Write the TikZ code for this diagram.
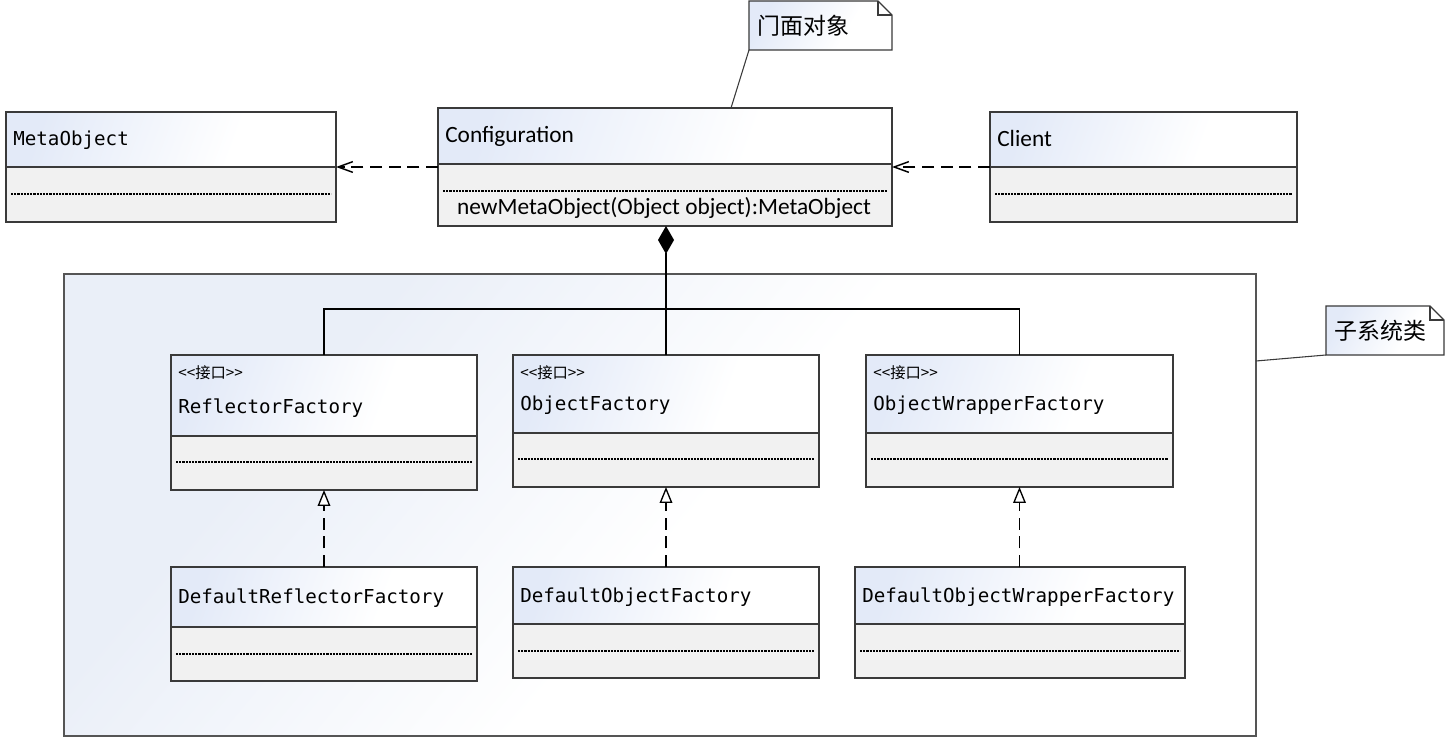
\documentclass[tikz,border=0pt]{standalone}
\usepackage{fontspec}
\usetikzlibrary{arrows.meta,calc}
\newfontfamily\monofont{DejaVu Sans Mono}
\newfontfamily\uifont{Carlito}
\newfontfamily\cjkfont{Noto Sans CJK SC}

\definecolor{boxline}{HTML}{3A3A3A}
\definecolor{pkgline}{HTML}{555555}
\definecolor{hdrblue}{HTML}{E3EAF8}
\definecolor{cmpgray}{HTML}{F1F1F1}
\definecolor{pkgblue}{HTML}{EAEFF8}

% pale blue corner fading to white
\pgfdeclarehorizontalshading{hdrfade}{100bp}{color(0bp)=(hdrblue); color(25bp)=(hdrblue); color(62bp)=(white); color(100bp)=(white)}
\pgfdeclarehorizontalshading{pkgfade}{100bp}{color(0bp)=(pkgblue); color(30bp)=(pkgblue); color(52bp)=(white); color(100bp)=(white)}

\tikzset{
  x=0.75pt, y=-0.75pt,
  clsbox/.style={draw=boxline, line width=1pt, rectangle, inner sep=0pt, outer sep=0pt},
  hdrshade/.style={shading=hdrfade, shading angle=-20},
  cmpfill/.style={fill=cmpgray},
  clsline/.style={draw=boxline, line width=1pt},
  dotline/.style={draw=black, line width=0.8pt, dash pattern=on 1.6pt off 0.8pt},
  clsname/.style={font=\monofont\fontsize{14.4pt}{16pt}\selectfont, inner sep=0pt, anchor=base west},
  uiname/.style={font=\uifont\fontsize{17.5pt}{20pt}\selectfont, inner sep=0pt},
  stereo/.style={font=\cjkfont\fontsize{11.5pt}{13pt}\selectfont, inner sep=0pt, anchor=base west},
  notebox/.style={rectangle, draw=none, inner sep=0pt, outer sep=0pt},
  noteshade/.style={shading=hdrfade, shading angle=-30},
  noteline/.style={draw=boxline, line width=1pt, line join=miter},
  notetext/.style={font=\cjkfont\fontsize{17.2pt}{20pt}\selectfont, inner sep=0pt},
  pkgbox/.style={rectangle, draw=pkgline, line width=1pt, inner sep=0pt, outer sep=0pt},
  pkgshade/.style={shading=pkgfade, shading angle=-40},
  link/.style={draw=black, line width=1.1pt},
  dep/.style={link, dash pattern=on 9pt off 5pt, -{Straight Barb[length=11pt,width=8pt,line width=1.1pt]}},
  real/.style={link, dash pattern=on 9pt off 5pt, -{Triangle[open,length=12pt,width=9.5pt,line width=1pt,fill=white]}},
  comp/.style={link, {Diamond[length=21pt,width=12pt]}-},
  anchorline/.style={draw=boxline, line width=0.8pt},
}

% class box: name, x, y, width, height, header height, dotted-line offset
\newcommand{\umlclass}[7]{%
  \fill[cmpfill] (#2,#3+#6) rectangle (#2+#4,#3+#5);
  \shade[hdrshade] (#2,#3) rectangle (#2+#4,#3+#6);
  \draw[dotline] (#2+5,#3+#6+#7) -- (#2+#4-5,#3+#6+#7);
  \draw[clsline] (#2,#3+#6) -- (#2+#4,#3+#6);
  \node[clsbox, minimum width=#4*0.75pt, minimum height=#5*0.75pt, anchor=north west] (#1) at (#2,#3) {};
}

% note with folded corner: name, x, y, width, height, text
\newcommand{\umlnote}[6]{%
  \node[notebox, minimum width=#4*0.75pt, minimum height=#5*0.75pt, anchor=north west] (#1) at (#2,#3) {};
  \shade[noteshade] (#2,#3) -- (#2+#4-14,#3) -- (#2+#4,#3+14) -- (#2+#4,#3+#5) -- (#2,#3+#5) -- cycle;
  \draw[noteline] (#2,#3) -- (#2+#4-14,#3) -- (#2+#4,#3+14) -- (#2+#4,#3+#5) -- (#2,#3+#5) -- cycle;
  \draw[noteline] (#2+#4-14,#3) -- (#2+#4-14,#3+14) -- (#2+#4,#3+14);
  \node[notetext, anchor=west] (#1T) at (#2+8,#3+#5/2) {#6};
}

\begin{document}
\begin{tikzpicture}
\useasboundingbox (0,0) rectangle (1446,737);
\fill[white] (0,0) rectangle (1446,737);

% subsystem package
\shade[pkgshade] (64,274) rectangle (1256,736);
\node[pkgbox, minimum width=1192*0.75pt, minimum height=462*0.75pt, anchor=north west] (pkg) at (64,274) {};

% facade and client side
\umlclass{meta}{6}{112}{330}{110}{55}{27}
\node[clsname] (metaT) at (13,146) {MetaObject};

\umlclass{conf}{438}{108}{454}{118}{56}{27}
\node[uiname, anchor=base west] (confT) at (445,143) {Configuration};
\node[uiname, anchor=base] (confM) at (664,215) {newMetaObject(Object object):MetaObject};

\umlclass{client}{990}{112}{307}{110}{55}{27}
\node[uiname, anchor=base west] (clientT) at (997,147) {Client};

% interfaces
\umlclass{rf}{171}{355}{306}{135}{81}{26}
\node[stereo] (rfS) at (178,379) {<<接口>>};
\node[clsname] (rfT) at (178,414) {ReflectorFactory};

\umlclass{of}{513}{355}{306}{132}{78}{26}
\node[stereo] (ofS) at (520,379) {<<接口>>};
\node[clsname] (ofT) at (520,411) {ObjectFactory};

\umlclass{owf}{866}{355}{307}{132}{78}{26}
\node[stereo] (owfS) at (873,379) {<<接口>>};
\node[clsname] (owfT) at (873,411) {ObjectWrapperFactory};

% default implementations
\umlclass{drf}{171}{567}{306}{114}{60}{27}
\node[clsname] (drfT) at (178,604) {DefaultReflectorFactory};

\umlclass{dof}{513}{567}{306}{111}{57}{27}
\node[clsname] (dofT) at (520,602) {DefaultObjectFactory};

\umlclass{dowf}{855}{567}{330}{111}{57}{27}
\node[clsname] (dowfT) at (862,602) {DefaultObjectWrapperFactory};

% notes
\umlnote{facade}{749}{1}{143}{49}{门面对象}
\umlnote{subsys}{1326}{306}{118}{49}{子系统类}
\draw[anchorline] (facade.south west) -- ($(conf.north west)+(293,0)$);
\draw[anchorline] (subsys.south west) -- ($(pkg.north east)+(0,87)$);

% dependencies
\draw[dep] ($(conf.north west)+(0,59)$) -- ($(meta.north east)+(0,55)$);
\draw[dep] ($(client.north west)+(0,55)$) -- ($(conf.north east)+(0,59)$);

% composition tree
\coordinate (bus) at (666,309);
\draw[comp] (conf.south -| of.north) -- (of.north);
\draw[link] (rf.north) |- (bus) -| (owf.north);

% realizations
\draw[real] (drf.north) -- (rf.south);
\draw[real] (dof.north) -- (of.south);
\draw[real] (dowf.north -| owf.south) -- (owf.south);
\end{tikzpicture}
\end{document}
